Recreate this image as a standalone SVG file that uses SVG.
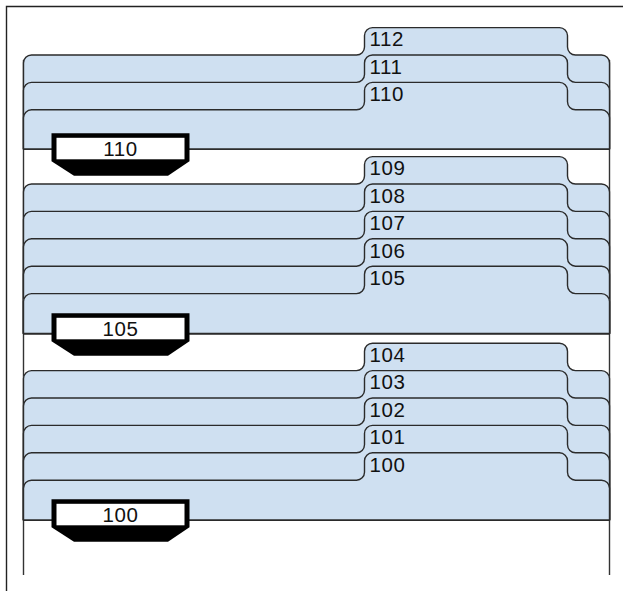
<svg xmlns="http://www.w3.org/2000/svg" width="623" height="591" viewBox="0 0 623 591">
<defs>
<style>
.frame{fill:none;stroke:#222;stroke-width:1.4}
.rail{fill:none;stroke:#333;stroke-width:1.4}
.layer{fill:#cfe0f1;stroke:#2b2b2b;stroke-width:1.4;stroke-linejoin:round}
.lbl{font-family:"Liberation Sans",Arial,sans-serif;font-size:20.5px;fill:#111;letter-spacing:0.6px}
.plaque-body{fill:#000}
.plaque-win{fill:#fff}
.plbl{font-family:"Liberation Sans",Arial,sans-serif;font-size:20.5px;fill:#111;text-anchor:middle;letter-spacing:0.6px}
</style>
</defs>
<g id="frame">
<path class="frame" d="M6.5 591 V6.5 H623"/>
</g>
<g id="connectors">
<path class="rail" d="M23.5 60 V575 M609.5 60 V575"/>
</g>

<!-- Group 1 -->
<g id="layer-112"><path class="layer" d="M23.5 149 V63 A8 8 0 0 1 31.5 55 H356.5 A8 8 0 0 0 364.5 47 V35.6 A8 8 0 0 1 372.5 27.6 H559.5 A8 8 0 0 1 567.5 35.6 V47 A8 8 0 0 0 575.5 55 H601.5 A8 8 0 0 1 609.5 63 V149 Z"/><text class="lbl" x="369.5" y="46.3">112</text></g>
<g id="layer-111"><path class="layer" d="M23.5 149 V90.4 A8 8 0 0 1 31.5 82.4 H356.5 A8 8 0 0 0 364.5 74.4 V63 A8 8 0 0 1 372.5 55 H559.5 A8 8 0 0 1 567.5 63 V74.4 A8 8 0 0 0 575.5 82.4 H601.5 A8 8 0 0 1 609.5 90.4 V149 Z"/><text class="lbl" x="369.5" y="73.7">111</text></g>
<g id="layer-110"><path class="layer" d="M23.5 149 V117.8 A8 8 0 0 1 31.5 109.8 H356.5 A8 8 0 0 0 364.5 101.8 V90.4 A8 8 0 0 1 372.5 82.4 H559.5 A8 8 0 0 1 567.5 90.4 V101.8 A8 8 0 0 0 575.5 109.8 H601.5 A8 8 0 0 1 609.5 117.8 V149 Z"/><text class="lbl" x="369.5" y="101.1">110</text></g>
<g id="plaque-110"><polygon class="plaque-body" points="51.5,133.3 189.5,133.3 189.5,161.3 168,175.8 74,175.8 51.5,161.3"/><rect class="plaque-win" x="56.5" y="137.8" width="128" height="21.5"/><text class="plbl" x="120.5" y="155.6">110</text></g>

<!-- Group 2 -->
<g id="layer-109"><path class="layer" d="M23.5 333.5 V192 A8 8 0 0 1 31.5 184 H356.5 A8 8 0 0 0 364.5 176 V164.6 A8 8 0 0 1 372.5 156.6 H559.5 A8 8 0 0 1 567.5 164.6 V176 A8 8 0 0 0 575.5 184 H601.5 A8 8 0 0 1 609.5 192 V333.5 Z"/><text class="lbl" x="369.5" y="175.3">109</text></g>
<g id="layer-108"><path class="layer" d="M23.5 333.5 V219.4 A8 8 0 0 1 31.5 211.4 H356.5 A8 8 0 0 0 364.5 203.4 V192 A8 8 0 0 1 372.5 184 H559.5 A8 8 0 0 1 567.5 192 V203.4 A8 8 0 0 0 575.5 211.4 H601.5 A8 8 0 0 1 609.5 219.4 V333.5 Z"/><text class="lbl" x="369.5" y="202.7">108</text></g>
<g id="layer-107"><path class="layer" d="M23.5 333.5 V246.8 A8 8 0 0 1 31.5 238.8 H356.5 A8 8 0 0 0 364.5 230.8 V219.4 A8 8 0 0 1 372.5 211.4 H559.5 A8 8 0 0 1 567.5 219.4 V230.8 A8 8 0 0 0 575.5 238.8 H601.5 A8 8 0 0 1 609.5 246.8 V333.5 Z"/><text class="lbl" x="369.5" y="230.1">107</text></g>
<g id="layer-106"><path class="layer" d="M23.5 333.5 V274.2 A8 8 0 0 1 31.5 266.2 H356.5 A8 8 0 0 0 364.5 258.2 V246.8 A8 8 0 0 1 372.5 238.8 H559.5 A8 8 0 0 1 567.5 246.8 V258.2 A8 8 0 0 0 575.5 266.2 H601.5 A8 8 0 0 1 609.5 274.2 V333.5 Z"/><text class="lbl" x="369.5" y="257.5">106</text></g>
<g id="layer-105"><path class="layer" d="M23.5 333.5 V301.6 A8 8 0 0 1 31.5 293.6 H356.5 A8 8 0 0 0 364.5 285.6 V274.2 A8 8 0 0 1 372.5 266.2 H559.5 A8 8 0 0 1 567.5 274.2 V285.6 A8 8 0 0 0 575.5 293.6 H601.5 A8 8 0 0 1 609.5 301.6 V333.5 Z"/><text class="lbl" x="369.5" y="284.9">105</text></g>
<g id="plaque-105"><polygon class="plaque-body" points="51.5,313.3 189.5,313.3 189.5,341.3 168,355.8 74,355.8 51.5,341.3"/><rect class="plaque-win" x="56.5" y="317.8" width="128" height="21.5"/><text class="plbl" x="120.5" y="335.6">105</text></g>

<!-- Group 3 -->
<g id="layer-104"><path class="layer" d="M23.5 520 V378.6 A8 8 0 0 1 31.5 370.6 H356.5 A8 8 0 0 0 364.5 362.6 V351.2 A8 8 0 0 1 372.5 343.2 H559.5 A8 8 0 0 1 567.5 351.2 V362.6 A8 8 0 0 0 575.5 370.6 H601.5 A8 8 0 0 1 609.5 378.6 V520 Z"/><text class="lbl" x="369.5" y="361.9">104</text></g>
<g id="layer-103"><path class="layer" d="M23.5 520 V406 A8 8 0 0 1 31.5 398 H356.5 A8 8 0 0 0 364.5 390 V378.6 A8 8 0 0 1 372.5 370.6 H559.5 A8 8 0 0 1 567.5 378.6 V390 A8 8 0 0 0 575.5 398 H601.5 A8 8 0 0 1 609.5 406 V520 Z"/><text class="lbl" x="369.5" y="389.3">103</text></g>
<g id="layer-102"><path class="layer" d="M23.5 520 V433.4 A8 8 0 0 1 31.5 425.4 H356.5 A8 8 0 0 0 364.5 417.4 V406 A8 8 0 0 1 372.5 398 H559.5 A8 8 0 0 1 567.5 406 V417.4 A8 8 0 0 0 575.5 425.4 H601.5 A8 8 0 0 1 609.5 433.4 V520 Z"/><text class="lbl" x="369.5" y="416.7">102</text></g>
<g id="layer-101"><path class="layer" d="M23.5 520 V460.8 A8 8 0 0 1 31.5 452.8 H356.5 A8 8 0 0 0 364.5 444.8 V433.4 A8 8 0 0 1 372.5 425.4 H559.5 A8 8 0 0 1 567.5 433.4 V444.8 A8 8 0 0 0 575.5 452.8 H601.5 A8 8 0 0 1 609.5 460.8 V520 Z"/><text class="lbl" x="369.5" y="444.1">101</text></g>
<g id="layer-100"><path class="layer" d="M23.5 520 V488.2 A8 8 0 0 1 31.5 480.2 H356.5 A8 8 0 0 0 364.5 472.2 V460.8 A8 8 0 0 1 372.5 452.8 H559.5 A8 8 0 0 1 567.5 460.8 V472.2 A8 8 0 0 0 575.5 480.2 H601.5 A8 8 0 0 1 609.5 488.2 V520 Z"/><text class="lbl" x="369.5" y="471.5">100</text></g>
<g id="plaque-100"><polygon class="plaque-body" points="51.5,499.3 189.5,499.3 189.5,527.3 168,541.8 74,541.8 51.5,527.3"/><rect class="plaque-win" x="56.5" y="503.8" width="128" height="21.5"/><text class="plbl" x="120.5" y="521.6">100</text></g>
</svg>
